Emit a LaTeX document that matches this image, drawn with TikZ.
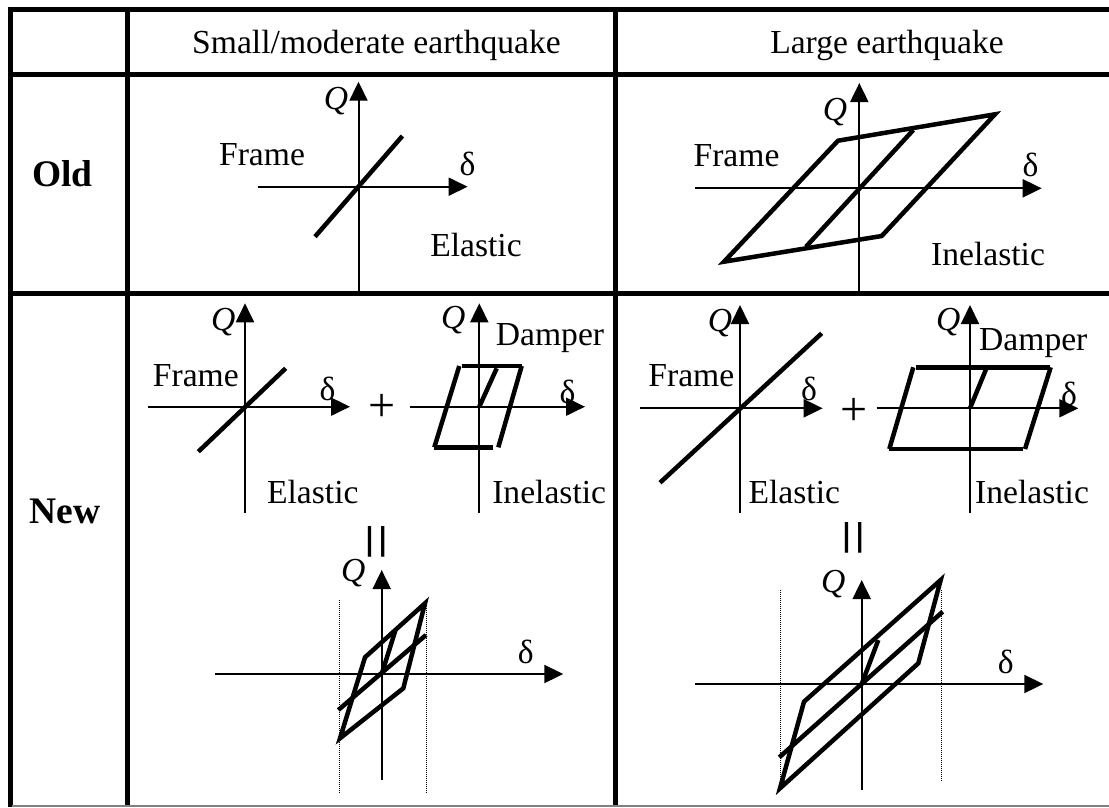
\documentclass[tikz,border=0pt]{standalone}
\usepackage{fontspec}
\setmainfont{Liberation Serif}
\usepackage{tikz}
\usetikzlibrary{arrows.meta}
\tikzset{
  every picture/.style={line join=miter},
  tabline/.style={line width=5pt},
  axisline/.style={line width=2pt,-{Triangle[length=19pt,width=18pt]}},
  loopline/.style={line width=4.5pt},
  guide/.style={line width=1pt,dash pattern=on 1pt off 1pt},
  lbl/.style={anchor=base,inner sep=0pt,font=\fontsize{33.6}{40}\selectfont},
  rowlbl/.style={anchor=base,inner sep=0pt,font=\fontsize{37.5}{44}\selectfont\bfseries},
  pluslbl/.style={inner sep=0pt,font=\fontsize{48}{48}\selectfont},
  eqlbl/.style={rotate=90,inner sep=0pt,font=\fontsize{66}{66}\selectfont},
}

\begin{document}
\begin{tikzpicture}[x=1pt,y=-1pt]
\useasboundingbox (0,0) rectangle (1109,807);
\draw[tabline](7.5,9.000)--(1109,9.000);
\draw[tabline](10.000,6.5)--(10.000,807);
\draw[tabline](127.500,6.5)--(127.500,807);
\draw[tabline](615.000,6.5)--(615.000,807);
\draw[tabline](10.000,74.000)--(1109,74.000);
\draw[tabline](10.000,293.000)--(1109,293.000);
\draw[line width=1.5pt,gray](12.000,806.000)--(1109,806.000);
\node[lbl] (hsmall) at (376.500,53.000) {Small/moderate earthquake};
\node[lbl] (hlarge) at (887.000,53.000) {Large earthquake};
\node[rowlbl] (rold) at (62.300,186.700) {Old};
\node[rowlbl] (rnew) at (64.700,523.300) {New};
% old, small/moderate
\draw[axisline](358.500,293.000)--(358.500,81.700);
\draw[axisline](257.700,186.700)--(467.600,186.700);
\draw[loopline](315.000,236.700)--(402.400,136.000);
\node[lbl] (q1) at (336.000,109.000) {\textit{Q}};
\node[lbl] (d1) at (467.500,175.000) {δ};
\node[lbl] (f1) at (262.000,165.000) {Frame};
\node[lbl] (e1) at (476.000,256.700) {Elastic};
% old, large
\draw[axisline](859.300,293.000)--(859.300,83.000);
\draw[axisline](695.000,188.300)--(1041.700,188.300);
\draw[loopline](724.000,261.700)--(838.000,140.700)--(995.000,114.300)--(881.700,236.000)--cycle;
\draw[loopline](806.000,246.700)--(913.300,130.000);
\node[lbl] (q2) at (835.000,120.000) {\textit{Q}};
\node[lbl] (d2) at (1030.500,176.000) {δ};
\node[lbl] (f2) at (736.500,166.700) {Frame};
\node[lbl] (i2) at (988.000,265.000) {Inelastic};
% new, small/moderate
\draw[axisline](245.000,513.000)--(245.000,303.300);
\draw[axisline](148.300,406.700)--(350.000,406.700);
\draw[loopline](198.300,451.700)--(285.700,368.300);
\node[lbl] (q3) at (223.300,330.000) {\textit{Q}};
\node[lbl] (d3) at (327.500,400.000) {δ};
\node[lbl] (f3) at (195.800,386.700) {Frame};
\node[lbl] (e3) at (312.800,503.300) {Elastic};
\node[pluslbl] (p3) at (381.700,408.300) {+};
\draw[axisline](479.300,513.000)--(479.300,303.300);
\draw[axisline](410.000,406.700)--(585.000,406.700);
\draw[loopline](461.700,366.000)--(521.700,366.000);
\draw[loopline](434.300,447.300)--(493.300,447.300);
\draw[loopline](434.300,447.300)--(459.300,366.000);
\draw[loopline](498.300,447.300)--(521.700,366.000);
\draw[loopline](479.300,406.700)--(496.700,368.300);
\node[lbl] (q4) at (453.300,328.300) {\textit{Q}};
\node[lbl] (dm4) at (550.000,345.000) {Damper};
\node[lbl] (d4) at (567.500,403.000) {δ};
\node[lbl] (i4) at (549.200,503.300) {Inelastic};
\node[eqlbl] (eq5) at (383.300,541.700) {=};
\draw[guide](339.300,600.000)--(339.300,793.300);
\draw[guide](426.000,600.000)--(426.000,793.300);
\draw[axisline](381.700,780.000)--(381.700,570.000);
\draw[axisline](215.000,674.000)--(563.300,674.000);
\draw[loopline](340.000,738.300)--(365.000,657.300)--(425.000,603.300)--(403.300,688.300)--cycle;
\draw[loopline](338.300,710.000)--(426.000,635.000);
\draw[loopline](381.700,674.000)--(395.300,630.700);
\node[lbl] (q5) at (353.300,581.000) {\textit{Q}};
\node[lbl] (d5) at (525.800,663.000) {δ};
% new, large
\draw[axisline](740.000,513.000)--(740.000,305.000);
\draw[axisline](640.000,408.300)--(822.700,408.300);
\draw[loopline](660.000,482.700)--(821.700,333.300);
\node[lbl] (q6) at (720.000,331.700) {\textit{Q}};
\node[lbl] (d6) at (809.000,400.000) {δ};
\node[lbl] (f6) at (691.300,386.700) {Frame};
\node[lbl] (e6) at (794.300,503.300) {Elastic};
\node[pluslbl] (p6) at (854.000,411.700) {+};
\draw[axisline](970.000,513.000)--(970.000,305.000);
\draw[axisline](876.700,408.300)--(1078.300,408.300);
\draw[loopline](916.000,367.300)--(1050.000,367.300);
\draw[loopline](889.300,449.000)--(1022.700,449.000);
\draw[loopline](889.300,449.000)--(913.300,367.300);
\draw[loopline](1025.000,449.000)--(1050.700,367.300);
\draw[loopline](970.000,408.300)--(986.000,369.300);
\node[lbl] (q7) at (948.300,330.000) {\textit{Q}};
\node[lbl] (dm7) at (1033.300,350.000) {Damper};
\node[lbl] (d7) at (1069.000,405.000) {δ};
\node[lbl] (i7) at (1032.000,503.300) {Inelastic};
\node[eqlbl] (eq8) at (860.000,537.500) {=};
\draw[guide](780.700,590.000)--(780.700,781.700);
\draw[guide](941.700,590.000)--(941.700,781.700);
\draw[axisline](861.700,790.000)--(861.700,580.000);
\draw[axisline](695.000,684.000)--(1043.300,684.000);
\draw[loopline](780.000,788.300)--(804.000,701.700)--(940.700,580.000)--(918.300,663.300)--cycle;
\draw[loopline](779.300,757.300)--(942.700,611.700);
\draw[loopline](861.700,684.000)--(878.300,640.000);
\node[lbl] (q8) at (833.300,592.000) {\textit{Q}};
\node[lbl] (d8) at (1005.800,673.000) {δ};
\end{tikzpicture}
\end{document}
